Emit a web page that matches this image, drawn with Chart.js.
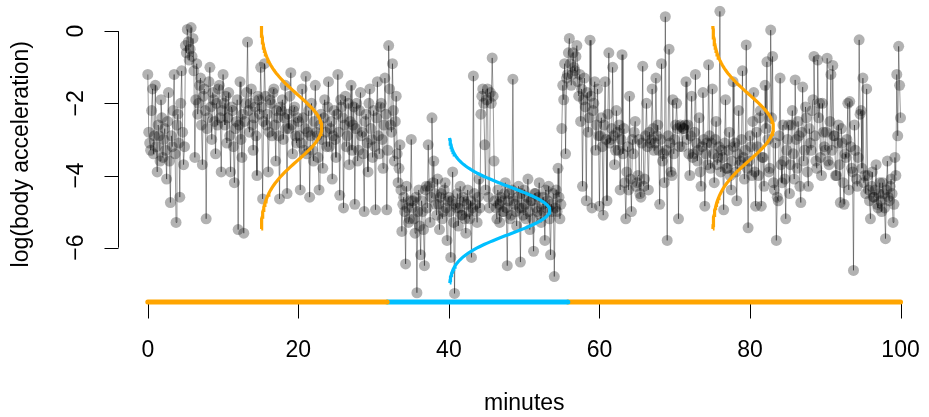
<!DOCTYPE html>
<html>
<head>
<meta charset="utf-8">
<script src="https://cdn.jsdelivr.net/npm/chart.js@4/dist/chart.umd.min.js"></script>
<style>
  body { margin: 0; background: #fff; }
  #wrap { width: 929px; height: 417px; position: relative; }
</style>
</head>
<body>
<div id="wrap"><canvas id="myChart"></canvas></div>
<script>
// Observations, one every 7.5 seconds
const step = 0.125;
const accel = [
  -1.2,-2.8,-3.1,-3.3,-2.2,-1.6,-3.4,-2.9,-1.5,-3.2,-3.9,-2.6,-2.9,-3.6,-1.9,-2.4,-3.5,-3.0,-2.7,-3.3,-4.1,-2.5,-1.7,-3.6,-4.75,-2.9,-3.2,-2.2,-1.2,-3.4,-5.3,-2.6,-2.3,-3.1,-4.6,-2.0,-1.1,-2.8,-3.7,-3.2,
  -0.4,-0.6,0.05,-0.3,-0.8,-0.5,0.1,-0.7,-0.2,-1.1,-3.5,-1.9,-0.9,-2.3,-2.0,-1.5,-1.3,-2.6,-3.7,-1.8,-1.6,-2.2,-5.2,-2.7,-2.4,-1.4,-1.0,-2.1,-3.0,-1.7,-1.9,-2.5,-3.4,-2.0,-2.6,-1.6,-1.5,-2.4,-3.9,-2.2,
  -1.2,-2.0,-2.6,-1.8,-3.1,-2.4,-1.7,-2.9,-3.9,-2.1,-2.2,-3.2,-4.2,-2.7,-2.5,-1.9,-5.5,-2.6,-1.4,-3.0,-3.5,-2.3,-5.6,-2.5,-2.0,-1.7,-0.3,-2.2,-2.8,-2.0,-1.6,-2.6,-3.3,-2.4,-2.1,-2.9,-4.0,-1.8,-1.9,-2.3,
  -1.0,-2.1,-4.65,-2.5,-0.9,-1.8,-2.6,-2.3,-3.9,-2.8,-1.9,-2.0,-2.9,-1.7,-1.6,-2.6,-3.6,-2.2,-2.4,-2.9,-4.65,-2.1,-2.2,-1.9,-3.0,-2.4,-1.5,-2.7,-4.5,-2.3,-2.7,-1.8,-1.15,-2.6,-3.4,-2.2,-2.1,-2.9,-3.1,-2.4,
  -2.5,-2.9,-4.4,-3.1,-1.6,-2.4,-3.3,-2.7,-1.25,-3.4,-2.8,-2.2,-4.6,-2.9,-2.0,-3.3,-3.6,-2.5,-1.5,-2.8,-2.9,-3.5,-4.4,-2.6,-2.3,-3.0,-3.8,-2.4,-1.9,-2.8,-3.2,-2.1,-1.4,-3.2,-2.7,-2.5,-4.1,-2.9,-2.2,-3.0,
  -3.5,-2.3,-1.2,-2.8,-4.55,-1.9,-2.1,-2.4,-4.9,-2.6,-1.8,-3.2,-2.9,-2.0,-3.7,-2.5,-1.5,-3.3,-2.6,-2.1,-4.8,-2.7,-2.0,-3.6,-3.3,-2.2,-1.7,-2.9,-2.8,-3.4,-5.0,-2.5,-2.3,-3.1,-3.9,-2.0,-1.6,-2.7,-3.0,-3.5,
  -2.2,-3.2,-4.95,-2.4,-1.4,-2.9,-3.4,-2.1,-2.0,-3.0,-3.8,-2.6,-1.3,-2.3,-4.95,-3.3,-0.4,-1.6,-2.6,-2.8,-0.9,-2.2,-3.6,-2.5,-1.8,-3.4,-4.2,-3.8,-3.15,-4.4,-5.55,-4.8,-4.6,-5.0,-6.45,-4.3,-4.9,-5.3,-5.2,-4.7,
  -3.0,-4.9,-4.7,-5.2,-5.6,-4.6,-7.25,-5.0,-4.4,-5.4,-6.2,-4.7,-5.0,-5.5,-6.5,-4.4,-4.3,-4.9,-3.15,-4.3,-5.3,-4.6,-2.4,-4.2,-3.6,-4.5,-4.8,-5.1,-4.1,-4.8,-5.5,-4.6,-4.5,-5.2,-5.0,-4.4,-4.2,-4.9,-5.8,-4.7,
  -4.6,-5.0,-6.27,-4.7,-3.9,-5.3,-7.27,-4.8,-4.9,-4.5,-5.4,-4.9,-4.3,-5.1,-5.1,-4.6,-4.7,-5.2,-5.6,-4.8,-4.4,-5.0,-5.2,-4.7,-6.27,-4.9,-1.24,-4.5,-4.8,-5.0,-5.3,-4.6,-4.1,-4.9,-2.3,-1.8,-1.6,-2.0,-3.15,-4.4,
  -1.9,-1.6,-4.6,-4.9,-1.7,-2.0,-0.74,-1.8,-3.6,-4.7,-4.9,-5.2,-4.4,-4.8,-5.3,-4.6,-4.7,-5.0,-5.0,-4.5,-4.2,-4.9,-6.5,-4.7,-4.5,-5.2,-5.1,-4.4,-1.33,-4.7,-4.8,-5.0,-5.4,-4.6,-4.3,-4.9,-6.4,-4.5,-4.9,-5.1,
  -4.4,-4.8,-5.2,-4.6,-4.1,-5.0,-5.5,-4.7,-4.7,-5.2,-6.1,-4.5,-4.5,-4.9,-5.0,-4.6,-4.2,-5.1,-5.3,-4.8,-4.6,-5.0,-5.8,-4.4,-4.9,-4.7,-4.3,-5.2,-6.2,-4.8,-5.0,-4.5,-6.8,-4.9,-4.4,-5.0,-3.8,-4.6,-5.2,-4.8,
  -2.7,-1.5,-1.9,-0.9,-3.4,-1.3,-1.2,-0.6,-0.2,-0.9,-1.5,-1.2,-0.6,-1.0,-1.1,-0.7,-0.4,-1.4,-1.8,-1.2,-2.5,-1.6,-4.3,-1.9,-1.3,-2.1,-4.7,-1.7,-2.8,-2.4,-0.25,-1.8,-4.9,-2.2,-2.0,-1.4,-3.3,-2.6,-1.6,-2.9,
  -4.85,-2.9,-2.4,-3.2,-5.1,-2.6,-1.4,-3.0,-4.7,-2.3,-0.6,-3.1,-3.0,-2.7,-1.0,-2.9,-3.7,-3.3,-2.2,-2.8,-3.3,-2.6,-4.4,-3.0,-0.65,-3.4,-2.7,-4.2,-5.2,-3.9,-3.2,-4.4,-1.8,-4.1,-5.0,-3.0,-3.4,-2.8,-2.5,-4.3,
  -4.2,-4.0,-3.0,-4.5,-4.6,-3.1,-0.97,-4.3,-4.1,-2.9,-2.0,-3.2,-4.4,-2.8,-3.1,-3.0,-1.6,-2.7,-3.3,-3.1,-1.3,-2.9,-2.6,-3.3,-4.8,-3.0,-0.9,-3.6,-3.4,-4.2,0.4,-3.3,-5.8,-2.9,-0.5,-3.1,-3.9,-4.0,-1.9,-3.4,
  -3.0,-2.6,-2.0,-2.7,-5.2,-3.2,-2.6,-2.65,-3.2,-2.7,-2.7,-2.6,-1.4,-3.0,-2.6,-3.4,-4.0,-2.9,-1.8,-3.5,-3.4,-2.8,-1.2,-3.1,-3.6,-3.3,-2.4,-3.9,-4.3,-3.2,-1.7,-3.0,-4.85,-3.4,-3.1,-3.7,-0.93,-2.9,-3.8,-3.1,
  -1.6,-3.4,-4.2,-3.0,-2.5,-3.7,-3.5,-3.2,0.55,-3.9,-3.3,-3.5,-4.95,-3.1,-1.9,-3.8,-3.8,-3.3,-2.8,-4.0,-4.4,-3.6,-1.4,-3.2,-3.1,-3.9,-4.7,-3.4,-2.2,-3.7,-3.6,-3.0,-1.1,-3.5,-4.1,-3.3,-0.38,-3.8,-5.45,-3.6,
  -2.9,-3.2,-4.0,-2.5,-1.7,-3.9,-4.85,-2.8,-3.2,-4.0,-2.4,-2.2,-4.85,-3.5,-3.5,-4.3,-1.5,-2.7,-0.85,-3.0,-3.9,-3.8,0.03,-2.4,-0.7,-4.2,-4.4,-3.1,-5.8,-4.6,-4.7,-2.9,-1.3,-3.7,-4.2,-2.6,-3.6,-4.1,-5.2,-3.3,
  -3.0,-2.6,-4.5,-3.7,-2.6,-2.2,-3.4,-4.1,-1.35,-3.0,-3.8,-2.5,-2.9,-4.3,-4.75,-2.8,-1.55,-3.6,-3.3,-2.1,-2.4,-3.9,-4.3,-2.7,-3.1,-3.3,-2.2,-1.9,-0.7,-2.9,-3.6,-3.8,-0.8,-2.4,-2.0,-3.5,-4.0,-2.0,-2.8,-3.2,
  -3.3,-2.8,-0.75,-3.6,-3.7,-2.5,-1.2,-3.3,-0.95,-2.9,-2.9,-4.0,-4.0,-3.1,-2.6,-3.7,-4.75,-2.7,-3.1,-4.2,-4.8,-3.4,-3.5,-3.0,-2.0,-4.4,-1.95,-3.2,-3.8,-3.9,-6.63,-2.6,-3.3,-4.1,-4.3,-3.5,-0.24,-2.3,-2.2,-3.8,
  -1.3,-4.2,-4.0,-4.5,-1.6,-4.0,-4.4,-4.7,-5.2,-4.3,-3.9,-4.6,-4.6,-4.4,-3.7,-4.8,-4.9,-4.5,-4.2,-4.7,-5.0,-4.2,-4.5,-4.9,-5.75,-4.4,-3.6,-4.6,-4.7,-4.3,-4.1,-4.5,-5.3,-4.8,-3.5,-4.0,-1.2,-2.9,-0.42,-1.5,
  -2.4
];
const minutes = accel.map((v, i) => i * step);

// Hidden states: segments along the time axis
const stateStart = [0, 31.8, 55.8];
const stateEnd = [31.8, 55.8, 100];
const stateOf = [0, 1, 0];
const stateColors = ["#FFA500", "#00BFFF"];

// Emission densities of each state
const stateMean = [-2.67, -4.97];
const stateSd = [0.91, 0.65];
const curveAt = [15, 40, 75];
const curveState = [0, 1, 0];
const curveHeight = [8.1, 13.4, 8.1];

const xTicks = [0, 20, 40, 60, 80, 100];
const yTicks = [0, -2, -4, -6];

const yMin = -7.534;
const yMax = 0.712;
const font = "23px 'Liberation Sans', Arial, sans-serif";

// Normal density drawn sideways
function densityCurve(k) {
  const s = curveState[k];
  const m = stateMean[s];
  const sd = stateSd[s];
  const pts = [];
  for (let j = 0; j <= 120; j++) {
    const y = m - 3.09 * sd + (6.18 * sd * j) / 120;
    const z = (y - m) / sd;
    pts.push({ x: curveAt[k] + curveHeight[k] * Math.exp(-0.5 * z * z), y: y });
  }
  return pts;
}

const datasets = [];

// State bar along the bottom
stateStart.forEach((s, k) => {
  datasets.push({
    data: [{ x: s, y: yMin + 0.03 }, { x: stateEnd[k], y: yMin + 0.03 }],
    showLine: true,
    borderColor: stateColors[stateOf[k]],
    borderWidth: 5,
    borderCapStyle: "round",
    pointRadius: 0,
    clip: false,
    order: 0,
  });
});

curveAt.forEach((c, k) => {
  datasets.push({
    data: densityCurve(k),
    showLine: true,
    borderColor: stateColors[curveState[k]],
    borderWidth: 3.2,
    pointRadius: 0,
    tension: 0,
    order: 1,
  });
});

datasets.push({
  data: minutes.map((m, i) => ({ x: m, y: accel[i] })),
  showLine: true,
  borderColor: "rgba(0,0,0,0.4)",
  borderWidth: 1,
  pointRadius: 5.5,
  pointBackgroundColor: "rgba(0,0,0,0.3)",
  pointBorderWidth: 0,
  order: 2,
});

// R style axes
const rAxes = {
  id: "rAxes",
  beforeDatasetsDraw(chart) {
    const ctx = chart.ctx;
    const xs = chart.scales.x;
    const ys = chart.scales.y;
    const area = chart.chartArea;
    ctx.save();
    ctx.strokeStyle = "#000";
    ctx.fillStyle = "#000";
    ctx.lineWidth = 1;
    ctx.font = font;

    // x axis
    const yb = area.bottom + 0.5;
    ctx.beginPath();
    ctx.moveTo(xs.getPixelForValue(xTicks[0]), yb);
    ctx.lineTo(xs.getPixelForValue(xTicks[xTicks.length - 1]), yb);
    xTicks.forEach((t) => {
      const px = Math.round(xs.getPixelForValue(t)) + 0.5;
      ctx.moveTo(px, yb);
      ctx.lineTo(px, yb + 15);
    });
    ctx.stroke();
    ctx.textAlign = "center";
    ctx.textBaseline = "middle";
    xTicks.forEach((t) => ctx.fillText(String(t), xs.getPixelForValue(t), 351));
    ctx.fillText("minutes", (area.left + xs.getPixelForValue(104)) / 2, 404);

    // y axis
    const xl = area.left + 0.5;
    ctx.beginPath();
    ctx.moveTo(xl, ys.getPixelForValue(yTicks[0]));
    ctx.lineTo(xl, ys.getPixelForValue(yTicks[yTicks.length - 1]));
    yTicks.forEach((t) => {
      const py = Math.round(ys.getPixelForValue(t)) + 0.5;
      ctx.moveTo(xl, py);
      ctx.lineTo(xl - 14, py);
    });
    ctx.stroke();
    yTicks.forEach((t) => {
      ctx.save();
      ctx.translate(77, ys.getPixelForValue(t));
      ctx.rotate(-Math.PI / 2);
      ctx.fillText(t < 0 ? "\u2212" + Math.abs(t) : String(t), 0, 0);
      ctx.restore();
    });
    ctx.save();
    ctx.translate(22, (area.top + area.bottom) / 2);
    ctx.rotate(-Math.PI / 2);
    ctx.fillText("log(body acceleration)", 0, 0);
    ctx.restore();
    ctx.restore();
  },
};

const ctx = document.getElementById("myChart");
new Chart(ctx, {
  type: "scatter",
  data: { datasets: datasets },
  options: {
    responsive: true,
    maintainAspectRatio: false,
    devicePixelRatio: 1,
    animation: false,
    layout: { padding: { left: 118, right: 0, top: 2, bottom: 114 } },
    plugins: { legend: { display: false }, tooltip: { enabled: false } },
    scales: {
      x: { type: "linear", min: -3.96, max: 103.05, display: false },
      y: { type: "linear", min: yMin, max: yMax, display: false },
    },
  },
  plugins: [rAxes],
});
</script>
</body>
</html>
